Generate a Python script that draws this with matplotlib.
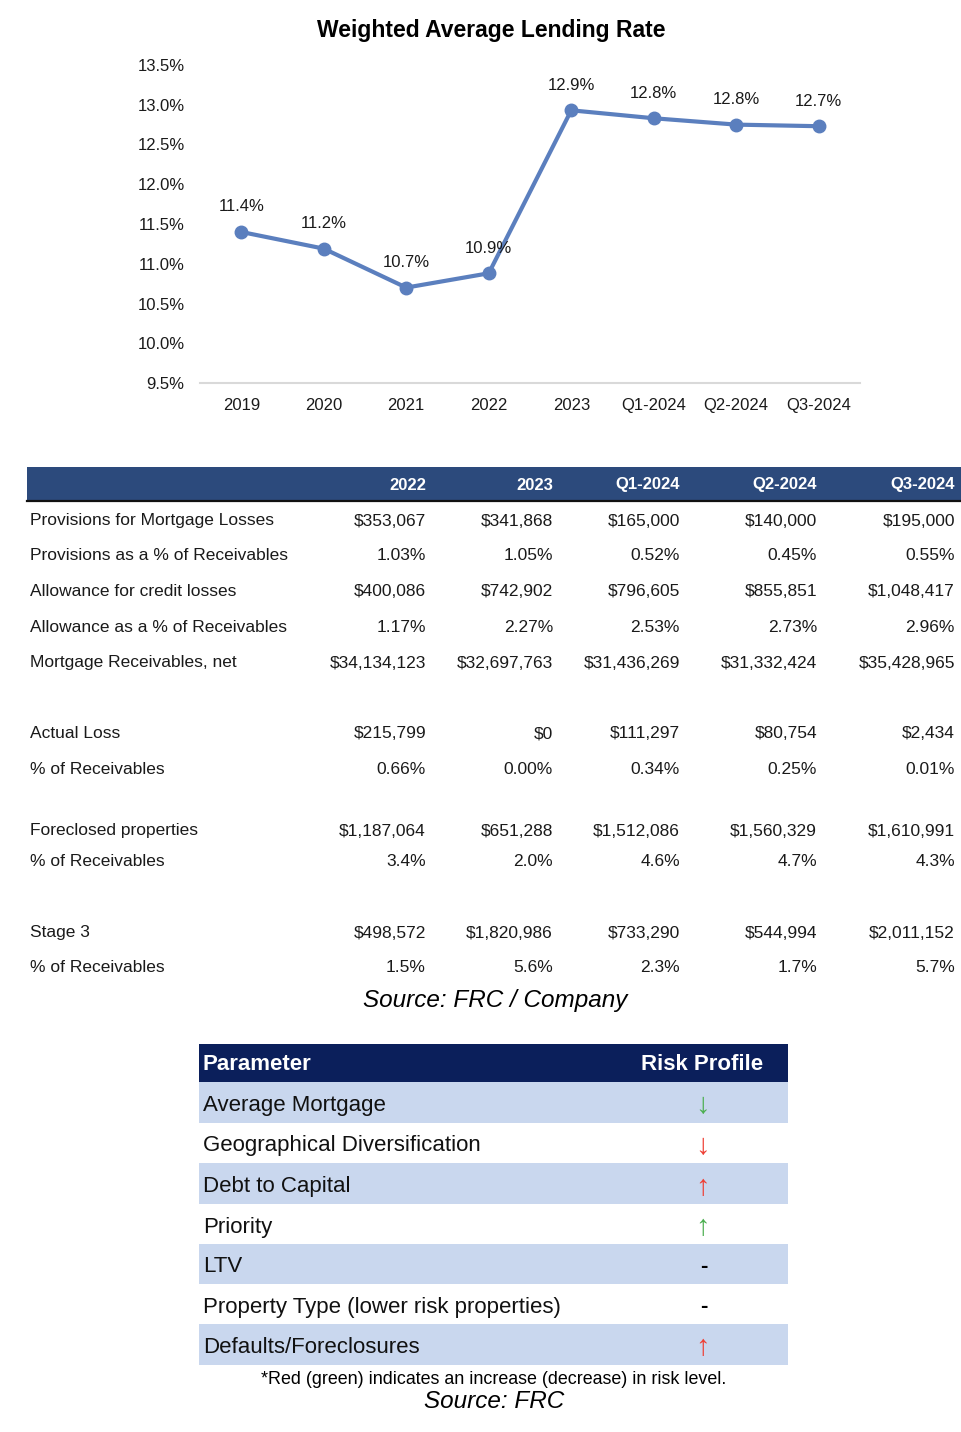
import matplotlib
matplotlib.use("Agg")
import matplotlib.pyplot as plt
from matplotlib import font_manager
from matplotlib.patches import Rectangle

# ---------------- data ----------------
chart_title = "Weighted Average Lending Rate"
periods = ["2019", "2020", "2021", "2022", "2023", "Q1-2024", "Q2-2024", "Q3-2024"]
lending_rate = [11.40, 11.19, 10.70, 10.88, 12.93, 12.83, 12.75, 12.73]
rate_labels = ["11.4%", "11.2%", "10.7%", "10.9%", "12.9%", "12.8%", "12.8%", "12.7%"]
y_ticks = [9.5, 10.0, 10.5, 11.0, 11.5, 12.0, 12.5, 13.0, 13.5]

table_cols = ["2022", "2023", "Q1-2024", "Q2-2024", "Q3-2024"]
provisions = [353067, 341868, 165000, 140000, 195000]
provisions_pct = [1.03, 1.05, 0.52, 0.45, 0.55]
allowance = [400086, 742902, 796605, 855851, 1048417]
allowance_pct = [1.17, 2.27, 2.53, 2.73, 2.96]
receivables = [34134123, 32697763, 31436269, 31332424, 35428965]
actual_loss = [215799, 0, 111297, 80754, 2434]
actual_loss_pct = [0.66, 0.00, 0.34, 0.25, 0.01]
foreclosed = [1187064, 651288, 1512086, 1560329, 1610991]
foreclosed_pct = [3.4, 2.0, 4.6, 4.7, 4.3]
stage3 = [498572, 1820986, 733290, 544994, 2011152]
stage3_pct = [1.5, 5.6, 2.3, 1.7, 5.7]
source1 = "Source: FRC / Company"

risk_header = ["Parameter", "Risk Profile"]
risk_params = ["Average Mortgage", "Geographical Diversification", "Debt to Capital",
               "Priority", "LTV", "Property Type (lower risk properties)",
               "Defaults/Foreclosures"]
risk_signs = ["↓", "↓", "↑", "↑", "-", "-", "↑"]
risk_colors = ["#4CAF50", "#EE4035", "#EE4035", "#4CAF50", "#000000", "#000000", "#EE4035"]
footnote = "*Red (green) indicates an increase (decrease) in risk level."
source2 = "Source: FRC"

# ---------------- fonts ----------------
names = {f.name for f in font_manager.fontManager.ttflist}
HAS_NARROW = "Liberation Sans Narrow" in names
SANS = ["Liberation Sans", "DejaVu Sans"]
NARROW = ["Liberation Sans Narrow", "Liberation Sans", "DejaVu Sans"] if HAS_NARROW else SANS
plt.rcParams["font.family"] = SANS

W, H = 962, 1432
fig = plt.figure(figsize=(W / 100, H / 100), dpi=100)
fig.patch.set_facecolor("white")

# full-figure overlay in pixel coordinates for tables and text
ov = fig.add_axes([0, 0, 1, 1])
ov.set_xlim(0, W)
ov.set_ylim(H, 0)
ov.axis("off")

# ---------------- chart ----------------
ax_l, ax_r, ax_t, ax_b = 200, 860, 65, 383
ax = fig.add_axes([ax_l / W, 1 - ax_b / H, (ax_r - ax_l) / W, (ax_b - ax_t) / H])
ax.set_facecolor("none")
xs = list(range(len(periods)))
line_color = "#5B7FBE"
ax.plot(xs, lending_rate, color=line_color, lw=3.0, marker="o", markersize=9,
        solid_capstyle="round", zorder=3, clip_on=False)
for x, v, lab in zip(xs, lending_rate, rate_labels):
    ax.annotate(lab, (x, v), xytext=(0, 18), textcoords="offset points",
                ha="center", va="center", fontsize=12, color="#1A1A1A")
ax.set_xlim(-0.5, len(periods) - 0.5)
ax.set_ylim(9.5, 13.5)
ax.set_yticks(y_ticks)
ax.set_yticklabels([f"{t:.1f}%" for t in y_ticks])
ax.set_xticks(xs)
ax.set_xticklabels(periods)
for s in ["left", "right", "top"]:
    ax.spines[s].set_visible(False)
ax.spines["bottom"].set_color("#D9D9D9")
ax.spines["bottom"].set_linewidth(1.5)
ax.tick_params(axis="both", length=0, labelsize=12, colors="#1A1A1A")
ax.tick_params(axis="y", pad=11)
ax.tick_params(axis="x", pad=10.5)
fig.text(491 / W, 1 - 30 / H, chart_title, ha="center", va="center",
         fontsize=16.5, fontweight="bold", color="#000000")

# ---------------- table 1 ----------------
hdr_color = "#2C4A7C"
ov.add_patch(Rectangle((27, 467), W - 27, 34, facecolor=hdr_color, edgecolor="none"))
ov.plot([27, W], [501, 501], color="#111111", lw=1.6)
col_right = [426, 553, 680, 817, 955]
hdr_font = NARROW
hdr_size = 14 if HAS_NARROW else 12
for c, xr in zip(table_cols, col_right):
    ov.text(xr, 485, c, ha="right", va="center", color="white", fontweight="bold",
            fontsize=hdr_size, family=hdr_font)


def money(v):
    return f"${v:,}"


def pct2(v):
    return f"{v:.2f}%"


def pct1(v):
    return f"{v:.1f}%"


table_rows = [
    ("Provisions for Mortgage Losses", provisions, money, 519),
    ("Provisions as a % of Receivables", provisions_pct, pct2, 554),
    ("Allowance for credit losses", allowance, money, 590),
    ("Allowance as a % of Receivables", allowance_pct, pct2, 625),
    ("Mortgage Receivables, net", receivables, money, 661),
    ("Actual Loss", actual_loss, money, 732),
    ("% of Receivables", actual_loss_pct, pct2, 767),
    ("Foreclosed properties", foreclosed, money, 829),
    ("% of Receivables", foreclosed_pct, pct1, 860),
    ("Stage 3", stage3, money, 931),
    ("% of Receivables", stage3_pct, pct1, 966),
]
body_color = "#1A1A1A"
for label, vals, fmt, y in table_rows:
    ov.text(30, y + 2, label, ha="left", va="center", fontsize=12.5, color=body_color)
    for v, xr in zip(vals, col_right):
        ov.text(xr, y + 2, fmt(v), ha="right", va="center", fontsize=12.5, color=body_color)

ov.text(495, 1001, source1, ha="center", va="center", fontsize=17.5,
        style="italic", color="#000000")

# ---------------- table 2 ----------------
t_l, t_r = 199, 788
ov.add_patch(Rectangle((t_l, 1044), t_r - t_l, 38, facecolor="#0B1F5B", edgecolor="none"))
ov.text(203, 1065, risk_header[0], ha="left", va="center", color="white",
        fontweight="bold", fontsize=16)
ov.text(702, 1065, risk_header[1], ha="center", va="center", color="white",
        fontweight="bold", fontsize=16)
row_edges = [1082, 1123, 1163, 1204, 1244, 1284, 1324, 1365]
band = "#C9D7EE"
row_font_size = 18.5 if HAS_NARROW else 16
for i, (p, s, col) in enumerate(zip(risk_params, risk_signs, risk_colors)):
    y0, y1 = row_edges[i], row_edges[i + 1]
    if i % 2 == 0:
        ov.add_patch(Rectangle((t_l, y0), t_r - t_l, y1 - y0, facecolor=band,
                               edgecolor="none"))
    yc = (y0 + y1) / 2
    ov.text(203, yc + 3, p, ha="left", va="center", fontsize=row_font_size,
            family=NARROW, color="#111111")
    if s == "-":
        ov.text(704, yc + 3, s, ha="center", va="center", fontsize=16,
                fontweight="bold", color=col)
    else:
        ov.text(702, yc + 3, s, ha="center", va="center", fontsize=21,
                family=["Liberation Sans", "DejaVu Sans"], color=col)

ov.text(494, 1379, footnote, ha="center", va="center",
        fontsize=14.5 if HAS_NARROW else 12.9, family=NARROW, color="#000000")
ov.text(494, 1402, source2, ha="center", va="center", fontsize=17.5,
        style="italic", color="#000000")

fig.savefig("out.png", dpi=100, facecolor="white")
